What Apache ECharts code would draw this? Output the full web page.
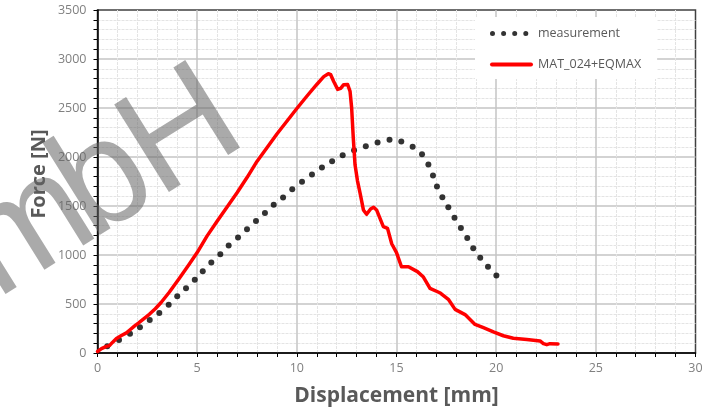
<!DOCTYPE html>
<html>
<head>
<meta charset="utf-8">
<script src="https://cdn.jsdelivr.net/npm/echarts@6/dist/echarts.min.js"></script>
<style>
  html, body { margin: 0; padding: 0; background: #fff; }
  #chart { width: 718px; height: 412px; }
</style>
</head>
<body>
<div id="chart"></div>
<script>
// Force–displacement curves: test measurement vs. simulation
const measurementX = [0.49, 1.08, 1.63, 2.13, 2.62, 3.10, 3.57, 4.00, 4.44, 4.88, 5.28, 5.71, 6.16, 6.58, 7.05, 7.50, 7.95, 8.40, 8.84, 9.31, 9.77, 10.26, 10.76, 11.26, 11.77, 12.30, 12.87, 13.46, 14.05, 14.65, 15.24, 15.81, 16.28, 16.60, 16.83, 17.03, 17.30, 17.60, 17.91, 18.23, 18.55, 18.85, 19.20, 19.59, 20.01];
const measurementY = [70, 133, 196, 262, 336, 409, 492, 578, 661, 748, 834, 924, 1007, 1097, 1179, 1263, 1346, 1429, 1512, 1588, 1672, 1748, 1822, 1894, 1957, 2017, 2069, 2109, 2147, 2175, 2159, 2104, 2027, 1924, 1812, 1698, 1590, 1488, 1379, 1276, 1173, 1069, 972, 879, 791];

const simX = [0, 0.2, 0.45, 0.6, 0.75, 0.95, 1.2, 1.45, 1.65, 1.85, 2.05, 2.3, 2.6, 2.9, 3.2, 3.6, 4.1, 4.6, 5.0, 5.5, 6.0, 6.5, 7.0, 7.5, 8.0, 8.5, 9.0, 9.5, 10.0, 10.5, 11.0, 11.35, 11.58, 11.7, 11.85, 12.05, 12.2, 12.35, 12.55, 12.67, 12.75, 12.83, 12.92, 13.04, 13.17, 13.34, 13.5, 13.7, 13.85, 14.0, 14.1, 14.34, 14.55, 14.76, 15.0, 15.25, 15.6, 16.05, 16.35, 16.68, 17.2, 17.6, 17.94, 18.44, 18.94, 19.36, 19.86, 20.36, 20.86, 21.54, 22.2, 22.37, 22.54, 22.7, 23.1];
const simY = [15, 45, 68, 75, 108, 148, 178, 205, 240, 275, 305, 345, 395, 452, 518, 620, 760, 905, 1025, 1195, 1345, 1490, 1635, 1790, 1955, 2095, 2235, 2365, 2495, 2620, 2740, 2820, 2850, 2840, 2770, 2690, 2700, 2738, 2740, 2670, 2500, 2200, 1920, 1760, 1635, 1460, 1415, 1470, 1488, 1460, 1440, 1290, 1272, 1115, 1025, 880, 880, 830, 775, 660, 612, 548, 445, 392, 292, 258, 215, 176, 150, 137, 123, 95, 85, 95, 93];

const seriesNames = ['measurement', 'MAT_024+EQMAX'];
const xTitle = 'Displacement [mm]';
const yTitle = 'Force [N]';
const watermarkLetters = ['m', 'b', 'H'];

const zip = (xs, ys) => xs.map((x, i) => [x, ys[i]]);

// legend icons: four dots, and a thick bar for the line
const dotsIcon = 'path://' +
  [2.5, 13.6, 24.7, 35.8].map(c => `M${c - 2.5},2.5a2.5,2.5 0 1,0 5,0a2.5,2.5 0 1,0 -5,0`).join('') +
  'M0,0L0,0M43,5L43,5';
const barIcon = 'path://M2,0.5H41a2,2 0 0,1 0,4H2a2,2 0 0,1 0,-4ZM0,0L0,0M43,5L43,5';

// tilted watermark, one letter at a time along a rising baseline
const wmAngle = 32 * Math.PI / 180;
const wmOrigin = [94, 190];
const wmOffsets = [-78, 13, 104.3];   // distance of each letter centre along the baseline
const watermarkGraphics = watermarkLetters.map((ch, i) => ({
  type: 'text',
  x: wmOrigin[0] + wmOffsets[i] * Math.cos(wmAngle),
  y: wmOrigin[1] - wmOffsets[i] * Math.sin(wmAngle),
  rotation: wmAngle,
  style: {
    text: ch, fill: 'rgba(100,100,100,0.55)',
    font: '150px "Liberation Sans"',
    textAlign: 'center', textVerticalAlign: 'middle'
  },
  z: 20
}));

const axisCommon = {
  type: 'value',
  axisLine: { show: true, onZero: false, lineStyle: { color: '#000', width: 1.5 } },
  axisTick: { show: true, inside: false, length: 4, lineStyle: { color: '#000', width: 1 } },
  minorTick: { show: true, splitNumber: 5, length: 4, lineStyle: { color: '#000', width: 1 } },
  splitLine: { show: true, showMinLine: false, showMaxLine: false, lineStyle: { color: '#c4c4c4', width: 1.5 } },
  minorSplitLine: { show: true, lineStyle: { color: '#e4e4e4', width: 1, type: [3, 1] } },
  axisLabel: { color: '#808080', fontSize: 12.5, fontFamily: 'Open Sans', formatter: v => String(v) }
};

const chart = echarts.init(document.getElementById('chart'), null, { renderer: 'canvas' });
chart.setOption({
  animation: false,
  backgroundColor: '#fff',
  textStyle: { fontFamily: 'Open Sans' },
  grid: {
    left: 97.5, right: 22.5, top: 10, bottom: 51,
    show: true, borderColor: '#404040', borderWidth: 1.5, backgroundColor: 'transparent'
  },
  xAxis: Object.assign({}, axisCommon, {
    min: 0, max: 30, interval: 5,
    axisLabel: Object.assign({}, axisCommon.axisLabel, { margin: 9 }),
    name: xTitle, nameLocation: 'middle', nameGap: 33,
    nameTextStyle: { color: '#595959', fontSize: 21, fontWeight: 'bold', fontFamily: 'Open Sans' }
  }),
  yAxis: Object.assign({}, axisCommon, {
    min: 0, max: 3500, interval: 500,
    axisLabel: Object.assign({}, axisCommon.axisLabel, { margin: 11 })
  }),
  legend: {
    orient: 'vertical',
    left: 475, top: 17,
    padding: [10, 16, 8, 15],
    backgroundColor: '#fff',
    itemWidth: 43, itemHeight: 5, itemGap: 18,
    textStyle: { color: '#595959', fontSize: 12.5, fontFamily: 'Open Sans' },
    data: [
      { name: seriesNames[0], icon: dotsIcon },
      { name: seriesNames[1], icon: barIcon }
    ]
  },
  series: [
    {
      name: seriesNames[0],
      type: 'scatter',
      symbol: 'circle',
      symbolSize: 6,
      itemStyle: { color: '#000' },
      data: zip(measurementX, measurementY),
      z: 3
    },
    {
      name: seriesNames[1],
      type: 'line',
      showSymbol: false,
      smooth: false,
      lineStyle: { color: '#ff0000', width: 3.5, join: 'round', cap: 'round' },
      itemStyle: { color: '#ff0000' },
      data: zip(simX, simY),
      z: 4
    }
  ],
  graphic: [
    {
      type: 'text',
      x: 39, y: 174,
      rotation: Math.PI / 2,
      style: {
        text: yTitle, fill: '#595959',
        font: 'bold 20px "Open Sans"',
        textAlign: 'center', textVerticalAlign: 'middle'
      },
      z: 10
    }
  ].concat(watermarkGraphics)
});
</script>
</body>
</html>
